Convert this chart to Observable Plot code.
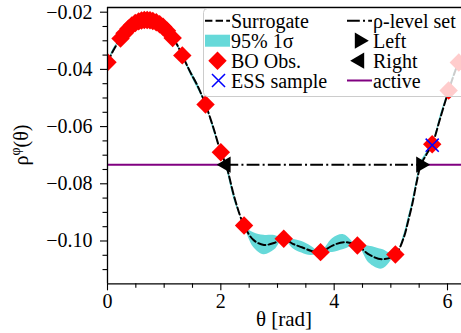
<!DOCTYPE html>
<html><head><meta charset="utf-8">
<script src="https://cdn.jsdelivr.net/npm/d3@7"></script>
<script src="https://cdn.jsdelivr.net/npm/@observablehq/plot@0.6"></script>
<style>
html,body{margin:0;padding:0;background:#fff;}
#wrap{position:relative;width:461px;height:333px;overflow:hidden;}
#wrap svg{display:block;}
#legend{position:absolute;left:0;top:0;}
</style></head><body><div id="wrap"></div>
<script>
// Surrogate mean curve and half-width of 95% band
const curveX    = [0.00, 0.10, 0.23, 0.35, 0.45, 0.55, 0.65, 0.75, 0.85, 0.95, 1.05, 1.15, 1.24, 1.32, 1.45, 1.60, 1.73, 1.87, 2.00, 2.09, 2.25, 2.41, 2.58, 2.76, 2.95, 3.11, 3.27, 3.43, 3.60, 3.76, 3.97, 4.17, 4.41, 4.62, 4.85, 5.08, 5.23, 5.30, 5.38, 5.45, 5.53, 5.63, 5.73, 5.88, 6.02, 6.12, 6.20, 6.28];
const curveMean = [-0.0375, -0.0335, -0.0292, -0.0262, -0.0243, -0.0232, -0.0227, -0.0228, -0.0234, -0.0246, -0.0265, -0.0290, -0.0318, -0.0351, -0.0405, -0.0462, -0.0523, -0.0605, -0.0690, -0.0733, -0.0855, -0.0946, -0.0997, -0.1014, -0.1006, -0.0992, -0.1010, -0.1022, -0.1035, -0.1039, -0.1016, -0.1004, -0.1016, -0.1048, -0.1064, -0.1047, -0.0987, -0.0935, -0.0870, -0.0800, -0.0733, -0.0697, -0.0662, -0.0565, -0.0474, -0.0415, -0.0376, -0.0360];
const curveBand = [0.0000, 0.0006, 0.0000, 0.0001, 0.0000, 0.0000, 0.0000, 0.0000, 0.0000, 0.0000, 0.0000, 0.0000, 0.0006, 0.0000, 0.0008, 0.0009, 0.0000, 0.0010, 0.0000, 0.0008, 0.0012, 0.0000, 0.0026, 0.0034, 0.0025, 0.0000, 0.0016, 0.0020, 0.0016, 0.0000, 0.0024, 0.0026, 0.0000, 0.0030, 0.0034, 0.0000, 0.0010, 0.0012, 0.0012, 0.0011, 0.0009, 0.0006, 0.0000, 0.0009, 0.0000, 0.0006, 0.0000, 0.0000];

// BO observations
const obsX = [0.00, 0.23, 0.30, 0.37, 0.43, 0.49, 0.55, 0.60, 0.65, 0.70, 0.75, 0.80, 0.86, 0.92, 0.98, 1.05, 1.15, 1.32, 1.73, 2.00, 2.41, 3.11, 3.76, 4.41, 5.08, 5.73, 6.02, 6.20];
const obsY = [-0.0375, -0.0292, -0.0274, -0.0258, -0.0246, -0.0238, -0.0232, -0.0229, -0.0227, -0.0227, -0.0228, -0.0231, -0.0235, -0.0242, -0.0251, -0.0265, -0.0290, -0.0351, -0.0523, -0.0690, -0.0946, -0.0992, -0.1039, -0.1016, -0.1047, -0.0662, -0.0474, -0.0376];

// ESS sample
const essX = [5.73];
const essY = [-0.0665];

// rho-level set
const levelY = -0.0733;
const leftX = 2.09;
const rightX = 5.53;
const activeStart = [0.00, 5.53];
const activeEnd   = [2.09, 6.30];

// ticks
const xMajor = [0, 2, 4, 6];
const xMinor = [0.5, 1, 1.5, 2.5, 3, 3.5, 4.5, 5, 5.5];
const yMajor = [-0.10, -0.08, -0.06, -0.04, -0.02];
const yMinor = [-0.110, -0.105, -0.095, -0.090, -0.085, -0.075, -0.070, -0.065, -0.055, -0.050, -0.045, -0.035, -0.030, -0.025];

const W = 461, H = 333, ML = 107, MT = 7, MB = 333 - 283.3;
const xDomain = [0, 6.247], yDomain = [-0.11497, -0.01836];
const FONT = "'Liberation Serif','Times New Roman',serif";
const BAND = "#66d9d9";

const curve = curveX.map((x, i) => ({x, m: curveMean[i], lo: curveMean[i] - curveBand[i], hi: curveMean[i] + curveBand[i]}));
const obs = obsX.map((x, i) => ({x, y: obsY[i]}));
const ess = essX.map((x, i) => ({x, y: essY[i]}));
const active = activeStart.map((s, i) => ({x1: s, x2: activeEnd[i], y: levelY}));
const crossings = [{x: leftX, y: levelY, rot: -90}, {x: rightX, y: levelY, rot: 90}];
const fmtY = d => (d < 0 ? "\u2212" : "") + Math.abs(d).toFixed(2);
const fmtX = d => String(d);

const plot = Plot.plot({
  width: W, height: H, marginLeft: ML, marginRight: 0, marginTop: MT, marginBottom: MB,
  style: {fontFamily: FONT, fontSize: "20px", color: "black", background: "white", overflow: "visible"},
  x: {domain: xDomain},
  y: {domain: yDomain},
  marks: [
    Plot.areaY(curve, {x: "x", y1: "lo", y2: "hi", fill: BAND, curve: "catmull-rom", clip: true}),
    Plot.line(curve, {x: "x", y: "m", stroke: "black", strokeWidth: 2, strokeDasharray: "7.4,3.2", curve: "catmull-rom", clip: true}),
    Plot.ruleY(active, {x1: "x1", x2: "x2", y: "y", stroke: "#800080", strokeWidth: 2, clip: true}),
    Plot.ruleY([{x1: leftX, x2: rightX, y: levelY}], {x1: "x1", x2: "x2", y: "y", stroke: "black", strokeWidth: 2, strokeDasharray: "12.8,3.2,2,3.2"}),
    Plot.dot(crossings, {x: "x", y: "y", symbol: "triangle", r: 6, fill: "black", rotate: "rot", clip: true}),
    Plot.dot(obs, {x: "x", y: "y", symbol: "diamond2", r: 8.3, fill: "red", clip: true}),
    Plot.dot(ess, {x: "x", y: "y", symbol: "times", r: 6, stroke: "blue", strokeWidth: 1.5, clip: true}),
    Plot.axisY({ticks: yMajor, tickSize: 7, tickPadding: 8, tickFormat: fmtY, label: null, fontSize: 20, strokeWidth: 1.1}),
    Plot.axisY({ticks: yMinor, tickSize: 4.5, tickFormat: () => "", label: null, strokeWidth: 1.1}),
    Plot.axisX({ticks: xMajor, tickSize: 7, tickPadding: 3, tickFormat: fmtX, label: null, fontSize: 20, strokeWidth: 1.1}),
    Plot.axisX({ticks: xMinor, tickSize: 4.5, tickFormat: () => "", label: null, strokeWidth: 1.1}),
    Plot.ruleX([xDomain[0]], {stroke: "black", strokeWidth: 1.3}),
    Plot.ruleY([yDomain[0]], {stroke: "black", strokeWidth: 1.3}),
    Plot.ruleY([yDomain[1]], {stroke: "black", strokeWidth: 1.3})
  ]
});

const svg = d3.select(plot);
// axis labels
svg.append("text").attr("x", (ML + W) / 2).attr("y", 326).attr("text-anchor", "middle")
  .attr("font-family", FONT).attr("font-size", 21).attr("fill", "black").text("θ [rad]");
const yl = svg.append("text").attr("transform", "translate(28,145) rotate(-90)").attr("text-anchor", "middle")
  .attr("font-family", FONT).attr("font-size", 20).attr("fill", "black");
yl.append("tspan").text("ρ");
yl.append("tspan").attr("dy", -8).attr("font-size", 14).text("φ");
yl.append("tspan").attr("dy", 8).text("(θ)");

const wrap = document.getElementById("wrap");
wrap.appendChild(plot);

// legend overlay
const leg = d3.select(wrap).append("svg").attr("id", "legend").attr("width", W).attr("height", H)
  .attr("font-family", FONT).attr("font-size", 20);
leg.append("rect").attr("x", 203.5).attr("y", 8.5).attr("width", 300).attr("height", 88).attr("rx", 4)
  .attr("fill", "white").attr("fill-opacity", 0.8).attr("stroke", "#cccccc").attr("stroke-width", 1);
const rows = [20.7, 40.7, 60.7, 80.5];
const c1 = [205, 230], c2 = [347, 372];
const labels1 = ["Surrogate", "95% 1σ", "BO Obs.", "ESS sample"];
const labels2 = ["ρ-level set", "Left", "Right", "active"];
labels1.forEach((t, i) => leg.append("text").attr("x", c1[1] + 1).attr("y", rows[i]).attr("dy", "0.35em").text(t));
labels2.forEach((t, i) => leg.append("text").attr("x", c2[1] + 1).attr("y", rows[i]).attr("dy", "0.35em").text(t));
leg.append("line").attr("x1", c1[0]).attr("x2", c1[1]).attr("y1", rows[0]).attr("y2", rows[0])
  .attr("stroke", "black").attr("stroke-width", 2).attr("stroke-dasharray", "7.4,3.2");
leg.append("rect").attr("x", c1[0]).attr("y", rows[1] - 6).attr("width", 25).attr("height", 12).attr("fill", BAND);
leg.append("path").attr("transform", `translate(${(c1[0] + c1[1]) / 2},${rows[2]})`)
  .attr("d", d3.symbol(d3.symbolDiamond2, Math.PI * 8.3 * 8.3)()).attr("fill", "red");
leg.append("path").attr("transform", `translate(${(c1[0] + c1[1]) / 2 + 1},${rows[3]})`)
  .attr("d", d3.symbol(d3.symbolTimes, Math.PI * 6 * 6)()).attr("fill", "none").attr("stroke", "blue").attr("stroke-width", 1.5);
leg.append("line").attr("x1", c2[0]).attr("x2", c2[1]).attr("y1", rows[0]).attr("y2", rows[0])
  .attr("stroke", "black").attr("stroke-width", 2).attr("stroke-dasharray", "12.8,3.2,2,3.2");
leg.append("path").attr("transform", `translate(${(c2[0] + c2[1]) / 2},${rows[1]}) rotate(90)`)
  .attr("d", d3.symbol(d3.symbolTriangle, Math.PI * 6 * 6)()).attr("fill", "black");
leg.append("path").attr("transform", `translate(${(c2[0] + c2[1]) / 2},${rows[2]}) rotate(-90)`)
  .attr("d", d3.symbol(d3.symbolTriangle, Math.PI * 6 * 6)()).attr("fill", "black");
leg.append("line").attr("x1", c2[0]).attr("x2", c2[1]).attr("y1", rows[3]).attr("y2", rows[3])
  .attr("stroke", "#800080").attr("stroke-width", 2);
</script></body></html>
